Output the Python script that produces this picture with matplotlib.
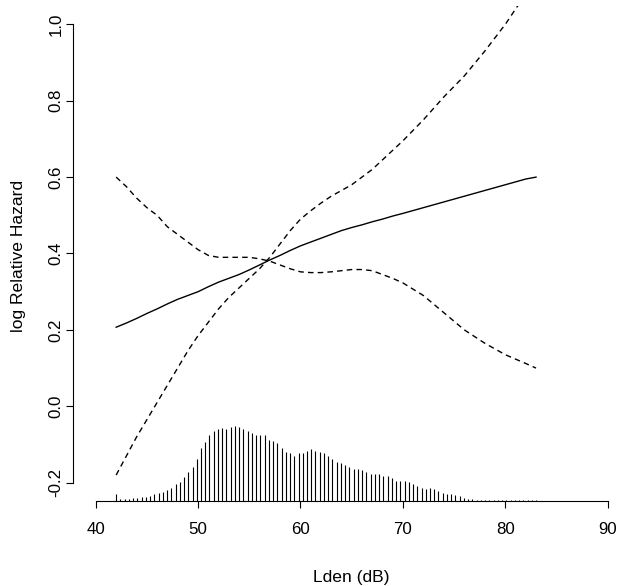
import numpy as np
import matplotlib
matplotlib.use("Agg")
import matplotlib.pyplot as plt

plt.rcParams['font.family'] = ['Liberation Sans', 'DejaVu Sans']

# Fitted log relative hazard and confidence limits vs Lden (dB)
lden = [42, 43, 44, 45, 46, 47, 48, 49, 50, 51, 52, 53, 54, 55, 56, 57, 58, 59,
        60, 61, 62, 63, 64, 65, 66, 67, 68, 69, 70, 72, 74, 76, 78, 80, 82, 83]
fit = [0.207, 0.218, 0.230, 0.243, 0.255, 0.268, 0.280, 0.290, 0.300, 0.313,
       0.325, 0.335, 0.345, 0.357, 0.370, 0.383, 0.395, 0.408, 0.420, 0.430,
       0.440, 0.450, 0.460, 0.468, 0.475, 0.483, 0.490, 0.498, 0.505, 0.520,
       0.535, 0.550, 0.565, 0.580, 0.595, 0.600]
lower = [0.600, 0.575, 0.545, 0.520, 0.500, 0.470, 0.450, 0.430, 0.410, 0.395,
         0.390, 0.390, 0.390, 0.390, 0.386, 0.380, 0.370, 0.360, 0.352, 0.350,
         0.350, 0.352, 0.355, 0.358, 0.358, 0.355, 0.345, 0.335, 0.323, 0.290,
         0.245, 0.200, 0.165, 0.135, 0.112, 0.100]
upper = [-0.180, -0.130, -0.080, -0.035, 0.010, 0.055, 0.100, 0.145, 0.185, 0.220,
         0.255, 0.285, 0.310, 0.335, 0.360, 0.390, 0.425, 0.460, 0.490, 0.512,
         0.532, 0.550, 0.565, 0.580, 0.600, 0.620, 0.645, 0.670, 0.695, 0.750,
         0.810, 0.865, 0.930, 1.000, 1.080, 1.110]

# Spike histogram of Lden (100 bins from 42 to 83): top of each spike
spike_lo, spike_hi = 42, 83
spike_top = [-0.230, -0.243, -0.244, -0.243, -0.241, -0.240, -0.238, -0.237, -0.235, -0.230,
             -0.228, -0.224, -0.219, -0.214, -0.203, -0.197, -0.184, -0.172, -0.160, -0.139,
             -0.110, -0.094, -0.075, -0.064, -0.060, -0.058, -0.060, -0.053, -0.052, -0.055,
             -0.060, -0.064, -0.069, -0.075, -0.075, -0.075, -0.087, -0.091, -0.095, -0.110,
             -0.121, -0.123, -0.130, -0.123, -0.123, -0.116, -0.113, -0.116, -0.119, -0.123,
             -0.130, -0.139, -0.147, -0.149, -0.154, -0.160, -0.165, -0.165, -0.167, -0.171,
             -0.177, -0.177, -0.177, -0.183, -0.183, -0.189, -0.195, -0.196, -0.196, -0.198,
             -0.203, -0.209, -0.215, -0.217, -0.215, -0.217, -0.222, -0.226, -0.230, -0.230,
             -0.232, -0.235, -0.241, -0.244, -0.244, -0.245, -0.245, -0.245, -0.245, -0.245,
             -0.245, -0.245, -0.245, -0.245, -0.245, -0.245, -0.245, -0.245, -0.245, -0.245]

xticks = [40, 50, 60, 70, 80, 90]
yticks = [-0.2, 0.0, 0.2, 0.4, 0.6, 0.8, 1.0]
xlabel = "Lden (dB)"
ylabel = "log Relative Hazard"

W, H = 622, 586
fig = plt.figure(figsize=(W / 100, H / 100), dpi=100)
xmin, xmax = 38, 92
ymin, ymax = -0.248, 1.048
left_px, right_px = 75.2, 628.2
top_px, bot_px = 6.0, 501.0
ax = fig.add_axes([left_px / W, 1 - bot_px / H, (right_px - left_px) / W, (bot_px - top_px) / H])
ax.set_xlim(xmin, xmax)
ax.set_ylim(ymin, ymax)

fs = 12.2
fs_lab = 12.6
ax.plot(lden, fit, color='black', lw=1.0)
ax.plot(lden, lower, color='black', lw=1.0, dashes=(4, 3))
ax.plot(lden, upper, color='black', lw=1.0, dashes=(4, 3))

spike_x = np.linspace(spike_lo, spike_hi, len(spike_top))
ax.vlines(spike_x, ymin, spike_top, color='black', lw=0.8)

for s in ['top', 'right']:
    ax.spines[s].set_visible(False)
ax.spines['left'].set_bounds(-0.2, 1.0)
ax.spines['bottom'].set_bounds(40, 90)
ax.spines['left'].set_position(('data', 37.82))
for s in ['left', 'bottom']:
    ax.spines[s].set_linewidth(0.8)

ax.set_xticks(xticks)
ax.set_xticklabels([str(v) for v in xticks])
ax.set_yticks(yticks)
ax.set_yticklabels([f"{v:.1f}" for v in yticks], rotation=90, va='center')
ax.tick_params(axis='both', direction='out', length=5, width=0.8, labelsize=fs, colors='black')
ax.tick_params(axis='x', pad=10.0)
ax.tick_params(axis='y', pad=2.0)

fig.text((left_px + right_px) / 2 / W, 1 - 577.5 / H, xlabel, ha='center', va='center', fontsize=fs_lab)
fig.text(19 / W, 1 - 256 / H, ylabel, ha='center', va='center', rotation=90, fontsize=fs_lab)

fig.savefig("out.png", dpi=100)
